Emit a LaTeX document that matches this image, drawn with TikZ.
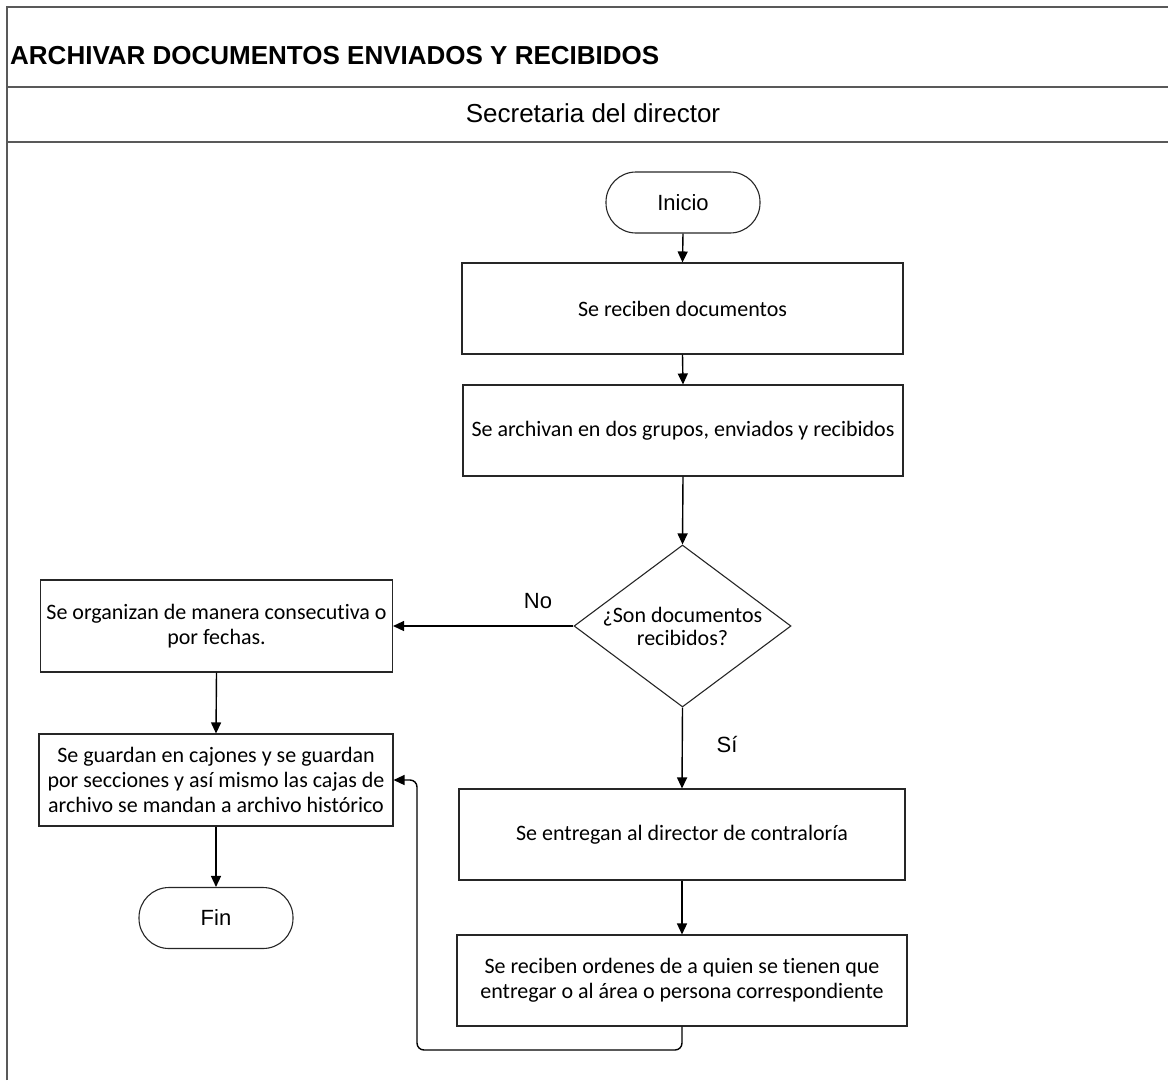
\documentclass[tikz,border=0pt]{standalone}
\usepackage{fontspec}
\setmainfont{Liberation Sans}
\newfontfamily\boxfont[Ligatures=NoCommon]{Carlito}
\usetikzlibrary{arrows.meta,shapes.geometric}
\begin{document}
\begin{tikzpicture}[x=1pt,y=-1pt,
  frameline/.style={draw=black!65, line width=1.7pt},
  procbox/.style={draw=black!85, line width=1.1pt, rectangle, inner sep=0,
    align=center, font=\boxfont\fontsize{22}{25}\selectfont},
  termbox/.style={draw=black!85, line width=1.1pt, rectangle, rounded corners=30pt,
    minimum width=154pt, minimum height=61pt, inner sep=0,
    font=\fontsize{22}{26}\selectfont},
  decbox/.style={draw=black!85, line width=1.1pt, diamond, inner sep=0,
    minimum width=217pt, minimum height=162pt},
  flow/.style={draw=black, line width=1.4pt, -{Triangle[length=11pt,width=10pt]}},
  lbl/.style={font=\fontsize{22}{26}\selectfont, inner sep=0}
]
\useasboundingbox (0,0) rectangle (1168,1080);

% pool frame and lane header
\draw[frameline] (7,1080) -- (7,7) -- (1168,7);
\draw[frameline] (7,87) -- (1168,87);
\draw[frameline] (7,142) -- (1168,142);
\node[anchor=west, font=\bfseries\fontsize{26}{31}\selectfont, inner sep=0] (title)
  at (10,56) {ARCHIVAR DOCUMENTOS ENVIADOS Y RECIBIDOS};
\node[font=\fontsize{26}{31}\selectfont, inner sep=0] (lane)
  at (593,113) {Secretaria del director};

% main column
\node[termbox] (ini) at (683,202.5) {Inicio};
\node[procbox, minimum width=441pt, minimum height=91pt] (b1) at (682.5,308.5)
  {Se reciben documentos};
\node[procbox, minimum width=440pt, minimum height=91pt] (b2) at (683,430.5)
  {Se archivan en dos grupos, enviados y recibidos};
\node[decbox] (dec) at (682.5,626) {};
\node[procbox, draw=none, font=\boxfont\fontsize{22}{23}\selectfont] (dect) at (682.5,626)
  {¿Son documentos\\recibidos?};
\node[procbox, minimum width=446pt, minimum height=91pt] (bC) at (682,834.5)
  {Se entregan al director de contraloría};
\node[procbox, minimum width=450pt, minimum height=91pt] (bD) at (682,980.5)
  {Se reciben ordenes de a quien se tienen que\\entregar o al área o persona correspondiente};

% left column
\node[procbox, minimum width=352pt, minimum height=92pt] (bA) at (216.5,626)
  {Se organizan de manera consecutiva o\\por fechas.};
\node[procbox, minimum width=354pt, minimum height=92pt] (bB) at (216,780)
  {Se guardan en cajones y se guardan\\por secciones y así mismo las cajas de\\archivo se mandan a archivo histórico};
\node[termbox] (fin) at (216,918) {Fin};

% connectors
\draw[flow] (ini.south) -- (b1.north);
\draw[flow] (b1.south) -- (b2.north);
\draw[flow] (b2.south) -- (dec.north);
\draw[flow] (dec.west) -- (bA.east);
\node[lbl] (no) at (538,601) {No};
\draw[flow] (dec.south) -- (bC.north);
\node[lbl] (si) at (727,744) {Sí};
\draw[flow] (bC.south) -- (bD.north);
\draw[flow] (bA.south) -- (bB.north);
\draw[flow] (bB.south) -- (fin.north);
\coordinate (loop) at (417,1050);
\draw[flow, rounded corners=7pt] (bD.south) |- (loop) |- (bB.east);
\end{tikzpicture}
\end{document}
